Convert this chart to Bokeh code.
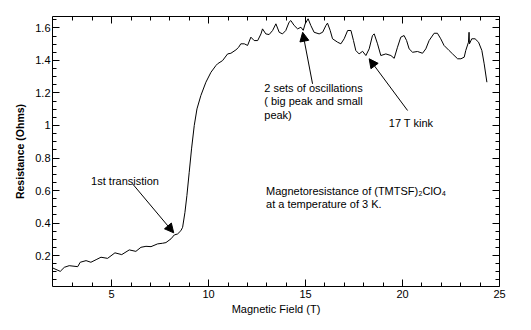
from bokeh.plotting import figure
from bokeh.models import (Range1d, FixedTicker, LinearAxis, Label, Arrow, NormalHead,
                          CustomJSTickFormatter)
from bokeh.embed import file_html
from bokeh.resources import INLINE

# Magnetoresistance of (TMTSF)2ClO4 at 3 K
field = [1.96, 2.35, 2.56, 2.81, 3.25, 3.38, 3.68, 3.93, 4.20, 4.45, 4.79, 5.17,
         5.52, 5.91, 6.25, 6.51, 6.77, 7.03, 7.37, 7.63, 7.80, 8.06, 8.23, 8.40,
         8.57, 8.66, 8.78, 8.88, 9.00, 9.12, 9.26, 9.40, 9.60, 9.86, 10.12, 10.38,
         10.46, 10.72, 10.98, 11.15, 11.41, 11.55, 11.66, 11.84, 12.01, 12.18,
         12.35, 12.53, 12.70, 12.78, 12.95, 13.12, 13.30, 13.47, 13.64, 13.81,
         13.98, 14.15, 14.24, 14.41, 14.59, 14.76, 14.88, 14.98, 15.13, 15.27,
         15.44, 15.70, 15.88, 16.05, 16.13, 16.27, 16.39, 16.65, 16.82, 16.99,
         17.17, 17.34, 17.47, 17.59, 17.76, 17.94, 18.11, 18.28, 18.45, 18.54,
         18.71, 18.88, 19.14, 19.40, 19.57, 19.74, 19.91, 20.08, 20.21, 20.34,
         20.52, 20.77, 21.03, 21.20, 21.37, 21.63, 21.80, 21.97, 22.14, 22.40,
         22.58, 22.84, 23.01, 23.18, 23.26, 23.40, 23.43, 23.45, 23.57, 23.74,
         23.92, 24.09, 24.21, 24.35]
resistance = [0.124, 0.103, 0.128, 0.138, 0.132, 0.159, 0.169, 0.159, 0.175, 0.190,
              0.183, 0.217, 0.206, 0.235, 0.226, 0.251, 0.257, 0.255, 0.272, 0.276,
              0.280, 0.303, 0.327, 0.333, 0.353, 0.374, 0.466, 0.569, 0.712, 0.856,
              1.000, 1.102, 1.184, 1.266, 1.327, 1.369, 1.379, 1.399, 1.440, 1.444,
              1.465, 1.481, 1.502, 1.502, 1.492, 1.543, 1.522, 1.522, 1.563, 1.594,
              1.563, 1.559, 1.584, 1.625, 1.573, 1.563, 1.584, 1.635, 1.645, 1.615,
              1.594, 1.604, 1.585, 1.625, 1.656, 1.615, 1.573, 1.563, 1.573, 1.615,
              1.629, 1.584, 1.533, 1.512, 1.502, 1.533, 1.584, 1.584, 1.522, 1.461,
              1.440, 1.456, 1.430, 1.471, 1.553, 1.563, 1.502, 1.430, 1.440, 1.430,
              1.413, 1.481, 1.543, 1.553, 1.522, 1.471, 1.450, 1.455, 1.444, 1.471,
              1.522, 1.567, 1.567, 1.533, 1.492, 1.461, 1.440, 1.410, 1.410, 1.420,
              1.461, 1.512, 1.573, 1.502, 1.533, 1.533, 1.512, 1.461, 1.379, 1.266]

x_major = [5, 10, 15, 20, 25]
x_minor = [3, 4, 6, 7, 8, 9, 11, 12, 13, 14, 16, 17, 18, 19, 21, 22, 23, 24]
y_major = [0.2, 0.4, 0.6, 0.8, 1.0, 1.2, 1.4, 1.6]
y_minor = [0.05, 0.1, 0.15, 0.25, 0.3, 0.35, 0.45, 0.5, 0.55, 0.65, 0.7, 0.75,
           0.85, 0.9, 0.95, 1.05, 1.1, 1.15, 1.25, 1.3, 1.35, 1.45, 1.5, 1.55, 1.65]

# annotations: (text lines, x, y of first baseline)
notes = [
    (["1st transistion"], 3.94, 0.661),
    (["2 sets of oscillations", "( big peak and small", "peak)"], 12.87, 1.231),
    (["17 T kink"], 19.29, 1.018),
    (["Magnetoresistance of (TMTSF)\u2082ClO\u2084", "at a temperature of 3 K."], 12.96, 0.600),
]
# arrows: (x_start, y_start, x_end, y_end)
arrows = [
    (6.08, 0.641, 8.20, 0.340),
    (15.36, 1.256, 14.85, 1.573),
    (20.26, 1.092, 18.28, 1.410),
]

FONT = "Liberation Sans"

p = figure(width=531, height=330, output_backend="svg", toolbar_location=None,
           x_range=Range1d(1.95, 25.0), y_range=Range1d(0.01, 1.67),
           min_border_left=52, min_border_right=32, min_border_top=16,
           min_border_bottom=44, background_fill_color="white",
           border_fill_color="white", outline_line_color=None)
p.grid.visible = False

def style(ax):
    ax.axis_line_color = "black"
    ax.axis_line_width = 1
    ax.major_tick_in = 7
    ax.major_tick_out = 0
    ax.minor_tick_in = 4
    ax.minor_tick_out = 0
    ax.major_tick_line_color = "black"
    ax.minor_tick_line_color = "black"
    ax.major_label_text_font = FONT
    ax.major_label_text_font_size = "11px"
    ax.major_label_text_color = "black"

p.xaxis.ticker = FixedTicker(ticks=x_major, minor_ticks=x_minor)
p.yaxis.ticker = FixedTicker(ticks=y_major, minor_ticks=y_minor)
style(p.xaxis[0])
style(p.yaxis[0])
p.xaxis.major_label_standoff = 3
p.yaxis.major_label_standoff = 2
p.xaxis.axis_label = "Magnetic Field (T)"
p.xaxis.axis_label_text_font = FONT
p.xaxis.axis_label_text_font_size = "11px"
p.xaxis.axis_label_text_font_style = "normal"
p.xaxis.axis_label_text_color = "black"
p.xaxis.axis_label_standoff = 2
p.yaxis.axis_label = "Resistance (Ohms)"
p.yaxis.axis_label_text_font = FONT
p.yaxis.axis_label_text_font_size = "10.5px"
p.yaxis.axis_label_text_font_style = "bold"
p.yaxis.axis_label_text_color = "black"
p.yaxis.axis_label_standoff = 6

blank = CustomJSTickFormatter(code="return ''")
top = LinearAxis(ticker=FixedTicker(ticks=x_major, minor_ticks=x_minor), formatter=blank)
style(top)
top.major_label_standoff = 0
p.add_layout(top, "above")
right = LinearAxis(ticker=FixedTicker(ticks=y_major, minor_ticks=y_minor), formatter=blank)
style(right)
right.major_label_standoff = 0
p.add_layout(right, "right")

p.line(field, resistance, line_color="black", line_width=1)

for lines, x, y in notes:
    for i, t in enumerate(lines):
        p.add_layout(Label(x=x, y=y, y_offset=-13.3 * i, text=t, text_font=FONT,
                           text_font_size="11px", text_color="black",
                           text_baseline="alphabetic", text_align="left"))

for xs, ys, xe, ye in arrows:
    p.add_layout(Arrow(x_start=xs, y_start=ys, x_end=xe, y_end=ye,
                       line_color="black", line_width=1,
                       end=NormalHead(size=9, fill_color="black", line_color="black",
                                      line_width=1)))

open("out.html", "w").write(file_html(p, INLINE))
